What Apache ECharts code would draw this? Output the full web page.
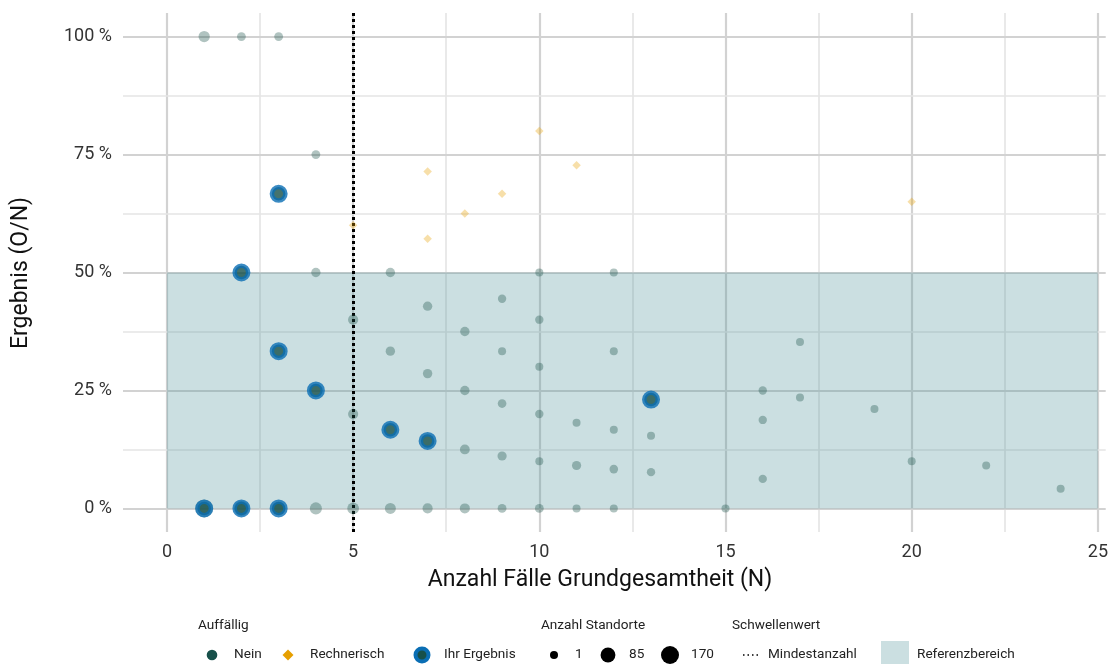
<!DOCTYPE html>
<html><head><meta charset="utf-8">
<script src="https://cdn.jsdelivr.net/npm/echarts@6/dist/echarts.min.js"></script>
<style>html,body{margin:0;padding:0;background:#fff}#c{width:1111px;height:664px}</style>
</head><body><div id="c"></div>
<script>
// ---- data ----
const xTicks = [0, 5, 10, 15, 20, 25];
const xMinor = [2.5, 7.5, 12.5, 17.5, 22.5];
const yTicks = [0, 25, 50, 75, 100];
const yMinor = [12.5, 37.5, 62.5, 87.5];
// [N, result %, number of sites]
const neinPoints = [
  [1,0,170],[2,0,90],[3,0,50],[4,0,35],[5,0,30],[6,0,21],[7,0,13],[8,0,12],[9,0,4],[10,0,4],[11,0,1],[12,0,1],[15,0,1],
  [1,100,24],[2,100,4],[3,100,4],[4,75,4],
  [4,50,7],[6,50,7],[10,50,1],[12,50,1],
  [5,40,13],[7,42.86,7],[8,37.5,7],[9,44.44,2],[10,40,2],
  [6,33.33,7],[9,33.33,1],[12,33.33,1],[17,35.29,1],
  [7,28.57,7],[10,30,1],[8,25,7],[16,25,2],[17,23.53,1],[19,21.05,1],
  [9,22.22,3],[10,20,2],[5,20,13],[11,18.18,1],[12,16.67,1],[13,15.38,1],[16,18.75,2],
  [8,12.5,10],[9,11.11,6],[10,10,1],[11,9.09,6],[12,8.33,3],[13,7.69,2],[16,6.25,2],
  [20,10,1],[22,9.09,1],[24,4.17,1]
];
const rechnerischPoints = [[5,60],[7,71.43],[7,57.14],[8,62.5],[9,66.67],[10,80],[11,72.73],[20,65]];
const ihrErgebnisPoints = [[1,0],[2,0],[3,0],[2,50],[3,66.67],[3,33.33],[4,25],[6,16.67],[7,14.29],[13,23.08]];
const threshold = 5;
const refX = [0, 25];
const refY = [0, 50];
const sizeLegend = [1, 85, 170];

// ---- styling ----
const FONT = 'Roboto';
const nSize = n => 8 + 10 * (Math.sqrt(n) - 1) / (Math.sqrt(170) - 1);
const DARK = '#17504a', BLUE = '#0a6eb4', ORANGE = '#e69f00';

const gridLines = [];
xTicks.forEach(v => gridLines.push({xAxis: v, lineStyle: {color: '#d2d2d2', width: 2.2, type: 'solid'}}));
xMinor.forEach(v => gridLines.push({xAxis: v, lineStyle: {color: '#e4e4e4', width: 1.6, type: 'solid'}}));
yTicks.forEach(v => gridLines.push({yAxis: v, lineStyle: {color: '#d2d2d2', width: 2.2, type: 'solid'}}));
yMinor.forEach(v => gridLines.push({yAxis: v, lineStyle: {color: '#e4e4e4', width: 1.6, type: 'solid'}}));

const legendY = 655, titleY = 626, LF = 13.6;
const txt = (x, y, s, size, align) => ({type: 'text', x: x, y: y, style: {text: s, fill: '#222', font: size + 'px ' + FONT, textAlign: align || 'left', textVerticalAlign: 'middle'}});
const graphics = [
  {type: 'text', x: 600, y: 580, style: {text: 'Anzahl Fälle Grundgesamtheit (N)', fill: '#111', font: '23px ' + FONT, textAlign: 'center', textVerticalAlign: 'middle'}},
  {type: 'text', x: 21, y: 273, rotation: Math.PI / 2, style: {text: 'Ergebnis (O/N)', fill: '#111', font: '23px ' + FONT, textAlign: 'center', textVerticalAlign: 'middle'}},
  txt(198, titleY, 'Auffällig', LF),
  {type: 'circle', shape: {cx: 212, cy: legendY, r: 5.3}, style: {fill: DARK}},
  txt(234, legendY, 'Nein', LF),
  {type: 'polygon', shape: {points: [[288, legendY - 5.5], [293.5, legendY], [288, legendY + 5.5], [282.5, legendY]]}, style: {fill: ORANGE}},
  txt(310, legendY, 'Rechnerisch', LF),
  {type: 'circle', shape: {cx: 422, cy: legendY, r: 6.5}, style: {fill: DARK, stroke: BLUE, lineWidth: 4}},
  txt(444, legendY, 'Ihr Ergebnis', LF),
  txt(541, titleY, 'Anzahl Standorte', LF),
  txt(732, titleY, 'Schwellenwert', LF),
  {type: 'line', shape: {x1: 743, y1: legendY, x2: 761, y2: legendY}, style: {stroke: '#000', lineWidth: 1.5, lineDash: [1.5, 3]}},
  txt(768, legendY, 'Mindestanzahl', LF),
  {type: 'rect', shape: {x: 881, y: 641, width: 28, height: 23}, style: {fill: 'rgba(82,148,155,0.3)'}},
  txt(917, legendY, 'Referenzbereich', LF)
];
const sizeLegendX = [[554, 575], [608, 629], [670, 691]];
sizeLegend.forEach((n, i) => {
  graphics.push({type: 'circle', shape: {cx: sizeLegendX[i][0], cy: legendY, r: nSize(n) / 2}, style: {fill: '#000'}});
  graphics.push(txt(sizeLegendX[i][1], legendY, String(n), LF));
});

const chart = echarts.init(document.getElementById('c'), null, {renderer: 'canvas'});
chart.setOption({
  animation: false,
  backgroundColor: '#fff',
  textStyle: {fontFamily: FONT},
  grid: {left: 123, right: 4, top: 13, bottom: 132, containLabel: false},
  xAxis: {
    type: 'value', min: -1.18, max: 25.21,
    axisLine: {show: false}, axisTick: {show: false}, splitLine: {show: false},
    axisLabel: {customValues: xTicks, color: '#333', fontSize: 18, margin: 11, fontFamily: FONT}
  },
  yAxis: {
    type: 'value', min: -5, max: 105,
    axisLine: {show: false}, axisTick: {show: false}, splitLine: {show: false},
    axisLabel: {customValues: yTicks, color: '#333', fontSize: 18, margin: 11, fontFamily: FONT, formatter: v => v + ' %'}
  },
  graphic: graphics,
  series: [
    {
      type: 'scatter', name: 'grid', data: [], silent: true, z: 0,
      markLine: {silent: true, symbol: 'none', z: 0, animation: false, label: {show: false}, emphasis: {disabled: true}, data: gridLines}
    },
    {
      type: 'scatter', name: 'Referenzbereich', data: [], silent: true, z: 1,
      markArea: {silent: true, z: 1, itemStyle: {color: 'rgba(82,148,155,0.3)'}, label: {show: false},
        data: [[{xAxis: refX[0], yAxis: refY[0]}, {xAxis: refX[1], yAxis: refY[1]}]]}
    },
    {
      type: 'scatter', name: 'Mindestanzahl', data: [], silent: true, z: 1,
      markLine: {silent: true, symbol: 'none', z: 1.5, animation: false, label: {show: false}, emphasis: {disabled: true},
        data: [{xAxis: threshold, lineStyle: {color: '#000', width: 3, type: [3, 3]}}]}
    },
    {
      type: 'scatter', name: 'Nein', data: neinPoints, z: 2, symbol: 'circle',
      symbolSize: v => nSize(v[2]),
      itemStyle: {color: 'rgba(27,80,72,0.43)'}, emphasis: {disabled: true}
    },
    {
      type: 'scatter', name: 'Rechnerisch', data: rechnerischPoints, z: 3, symbol: 'diamond', symbolSize: 8.5,
      itemStyle: {color: 'rgba(230,159,0,0.42)'}, emphasis: {disabled: true}
    },
    {
      type: 'scatter', name: 'Ihr Ergebnis', data: ihrErgebnisPoints, z: 5, symbol: 'circle', symbolSize: 13.5,
      itemStyle: {color: DARK, borderColor: BLUE, borderWidth: 4.5}, emphasis: {disabled: true}
    }
  ]
});
</script></body></html>
